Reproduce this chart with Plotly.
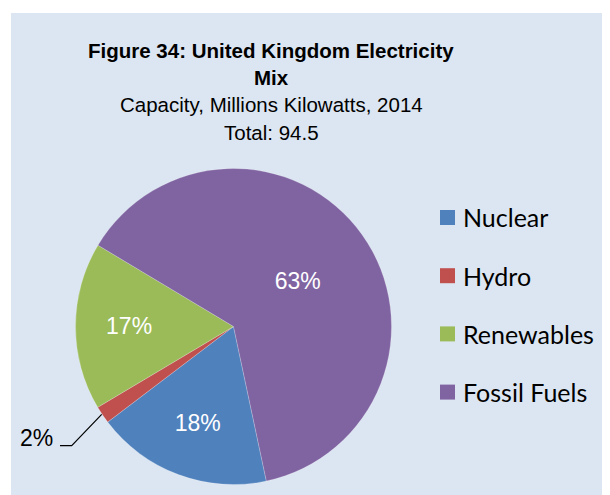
import plotly.graph_objects as go

# The page body has an 8px default margin; the figure is sized to fill the
# rest of the 610x495 window, and positions below are given in window pixels.
OFF = 8
W, H = 610 - OFF, 495 - OFF

categories = ["Nuclear", "Hydro", "Renewables", "Fossil Fuels"]
values = [17.0, 1.7, 16.2, 59.6]
colors = ["#4F81BD", "#C0504D", "#9BBB59", "#8064A2"]
title_line1 = "Figure 34: United Kingdom Electricity"
title_line2 = "Mix"
subtitle1 = "Capacity, Millions Kilowatts, 2014"
subtitle2 = "Total: 94.5"

total = sum(values)
bg = "#DCE6F2"


def px(x):
    return (x - OFF) / W


def py(y):
    return 1 - (y - OFF) / H


# pie geometry (window pixels)
cx, cy, r = 233.5, 326.5, 158

texttemplates = ["%{percent:.0%}" if v / total >= 0.05 else "" for v in values]

fig = go.Figure()
fig.add_trace(go.Pie(
    labels=categories,
    values=values,
    sort=False,
    direction="clockwise",
    rotation=168,
    marker=dict(colors=colors, line=dict(color="rgba(255,255,255,0.35)", width=0.6)),
    texttemplate=texttemplates,
    textposition="inside",
    insidetextorientation="horizontal",
    textfont=dict(family="Liberation Sans, Arial", size=23, color="white"),
    showlegend=False,
    hoverinfo="label+percent+value",
    domain=dict(x=[px(cx - r), px(cx + r)], y=[py(cy + r), py(cy - r)]),
))

shapes = [
    dict(type="rect", xref="paper", yref="paper", x0=px(11), x1=1, y0=0, y1=py(13),
         fillcolor=bg, line=dict(width=0), layer="below"),
]
annotations = []

# title block
for txt, yc, bold in [(title_line1, 50.8, True), (title_line2, 77.8, True),
                      (subtitle1, 104.2, False), (subtitle2, 132.2, False)]:
    annotations.append(dict(
        text=f"<b>{txt}</b>" if bold else txt, x=px(271), y=py(yc),
        xref="paper", yref="paper", xanchor="center", yanchor="middle",
        showarrow=False, font=dict(family="Liberation Sans, Arial", size=20.5, color="black")))

# small-slice label with leader line (Hydro)
small_idx = [i for i, v in enumerate(values) if v / total < 0.05]
for i in small_idx:
    annotations.append(dict(
        text=f"{round(100 * values[i] / total)}%", x=px(36), y=py(438),
        xref="paper", yref="paper", xanchor="center", yanchor="middle",
        showarrow=False, font=dict(family="Liberation Sans, Arial", size=23, color="black")))
    shapes.append(dict(
        type="path", xref="paper", yref="paper",
        path=f"M {px(60)} {py(445.7)} L {px(71.7)} {py(445.7)} L {px(101.7)} {py(414.3)}",
        line=dict(color="black", width=1.2)))

# legend
leg_y0, leg_dy = 217.5, 58.2
for k, (name, col) in enumerate(zip(categories, colors)):
    yc = leg_y0 + k * leg_dy
    shapes.append(dict(type="rect", xref="paper", yref="paper",
                       x0=px(440), x1=px(455), y0=py(yc + 7.5), y1=py(yc - 7.5),
                       fillcolor=col, line=dict(width=0)))
    annotations.append(dict(
        text=name, x=px(461), y=py(yc), xref="paper", yref="paper",
        xanchor="left", yanchor="middle", showarrow=False,
        font=dict(family="Lato, Carlito, Calibri", size=25, color="black")))

fig.update_layout(
    width=W, height=H,
    margin=dict(l=0, r=0, t=0, b=0),
    paper_bgcolor="white",
    plot_bgcolor="white",
    shapes=shapes,
    annotations=annotations,
)

fig.write_html("out.html")
